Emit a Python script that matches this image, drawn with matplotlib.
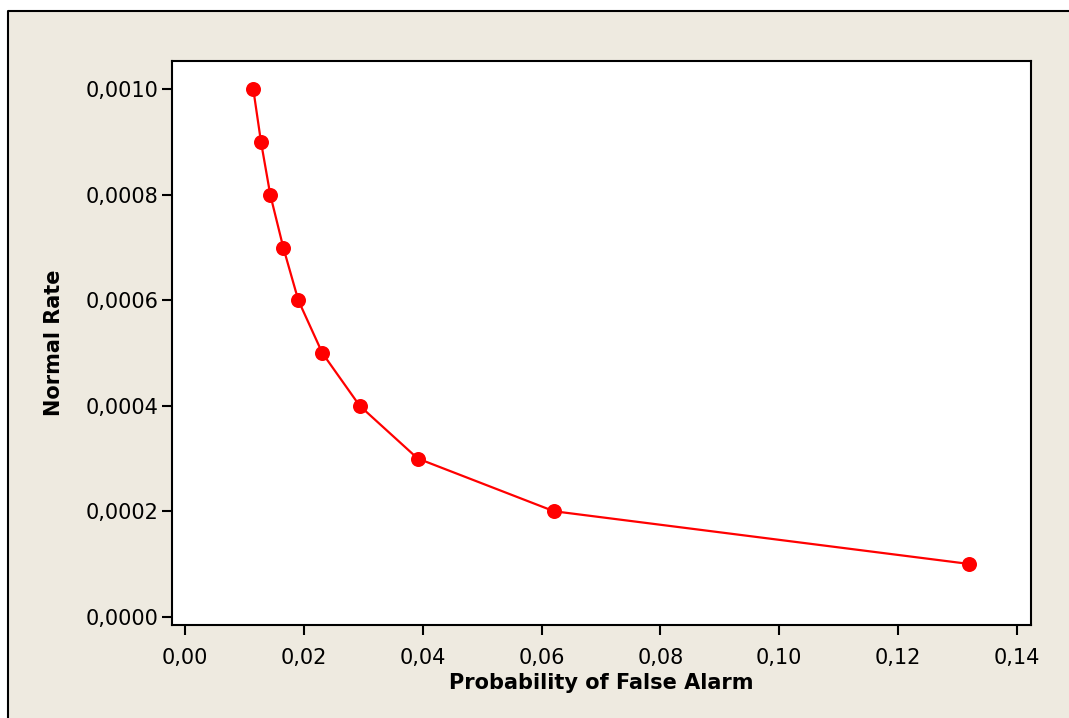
import matplotlib
matplotlib.use("Agg")
import matplotlib.pyplot as plt
from matplotlib.patches import Rectangle
from matplotlib.lines import Line2D
from matplotlib.ticker import FuncFormatter

# Probability of false alarm vs. normal rate
false_alarm = [0.01145, 0.01275, 0.01431, 0.01650, 0.01903,
               0.02307, 0.02936, 0.03913, 0.06208, 0.13201]
normal_rate = [0.0010, 0.0009, 0.0008, 0.0007, 0.0006,
               0.0005, 0.0004, 0.0003, 0.0002, 0.0001]

x_ticks = [0.00, 0.02, 0.04, 0.06, 0.08, 0.10, 0.12, 0.14]
y_ticks = [0.0000, 0.0002, 0.0004, 0.0006, 0.0008, 0.0010]

plt.rcParams['font.family'] = ['DejaVu Sans']

W, H = 1069, 718
fig = plt.figure(figsize=(W / 100, H / 100), dpi=100)
fig.patch.set_facecolor('white')

# Beige graph region with a black outline on top and left
x0, y0 = 8 / W, 1 - 11 / H
fig.add_artist(Rectangle((x0, 0), 1 - x0, y0, transform=fig.transFigure,
                         facecolor='#EEEAE0', edgecolor='none', zorder=-10))
fig.add_artist(Line2D([x0, x0, 1], [0, y0, y0], transform=fig.transFigure,
                      color='black', linewidth=1.5, zorder=-9))

ax = fig.add_axes([172 / W, 1 - 625 / H, (1031 - 172) / W, (625 - 61) / H])
ax.set_facecolor('white')

ax.plot(false_alarm, normal_rate, color='#FF0000', linewidth=1.6,
        marker='o', markersize=10.8, markeredgewidth=0, clip_on=False)

ax.set_xlim(-0.00224, 0.1424)
ax.set_ylim(-0.0000157, 0.0010537)

ax.set_xticks(x_ticks)
ax.set_yticks(y_ticks)
ax.xaxis.set_major_formatter(FuncFormatter(lambda v, p: f"{v:.2f}".replace('.', ',')))
ax.yaxis.set_major_formatter(FuncFormatter(lambda v, p: f"{v:.4f}".replace('.', ',')))

ax.tick_params(axis='both', direction='out', length=7.5, width=1.5,
               labelsize=15, colors='black')
ax.tick_params(axis='x', pad=9)
ax.tick_params(axis='y', pad=2)

for s in ax.spines.values():
    s.set_linewidth(1.5)
    s.set_color('black')

ax.set_xlabel('Probability of False Alarm', fontsize=15, fontweight='bold', labelpad=4)
ax.set_ylabel('Normal Rate', fontsize=15, fontweight='bold', labelpad=16)

fig.savefig('out.png', dpi=100, facecolor=fig.get_facecolor())
